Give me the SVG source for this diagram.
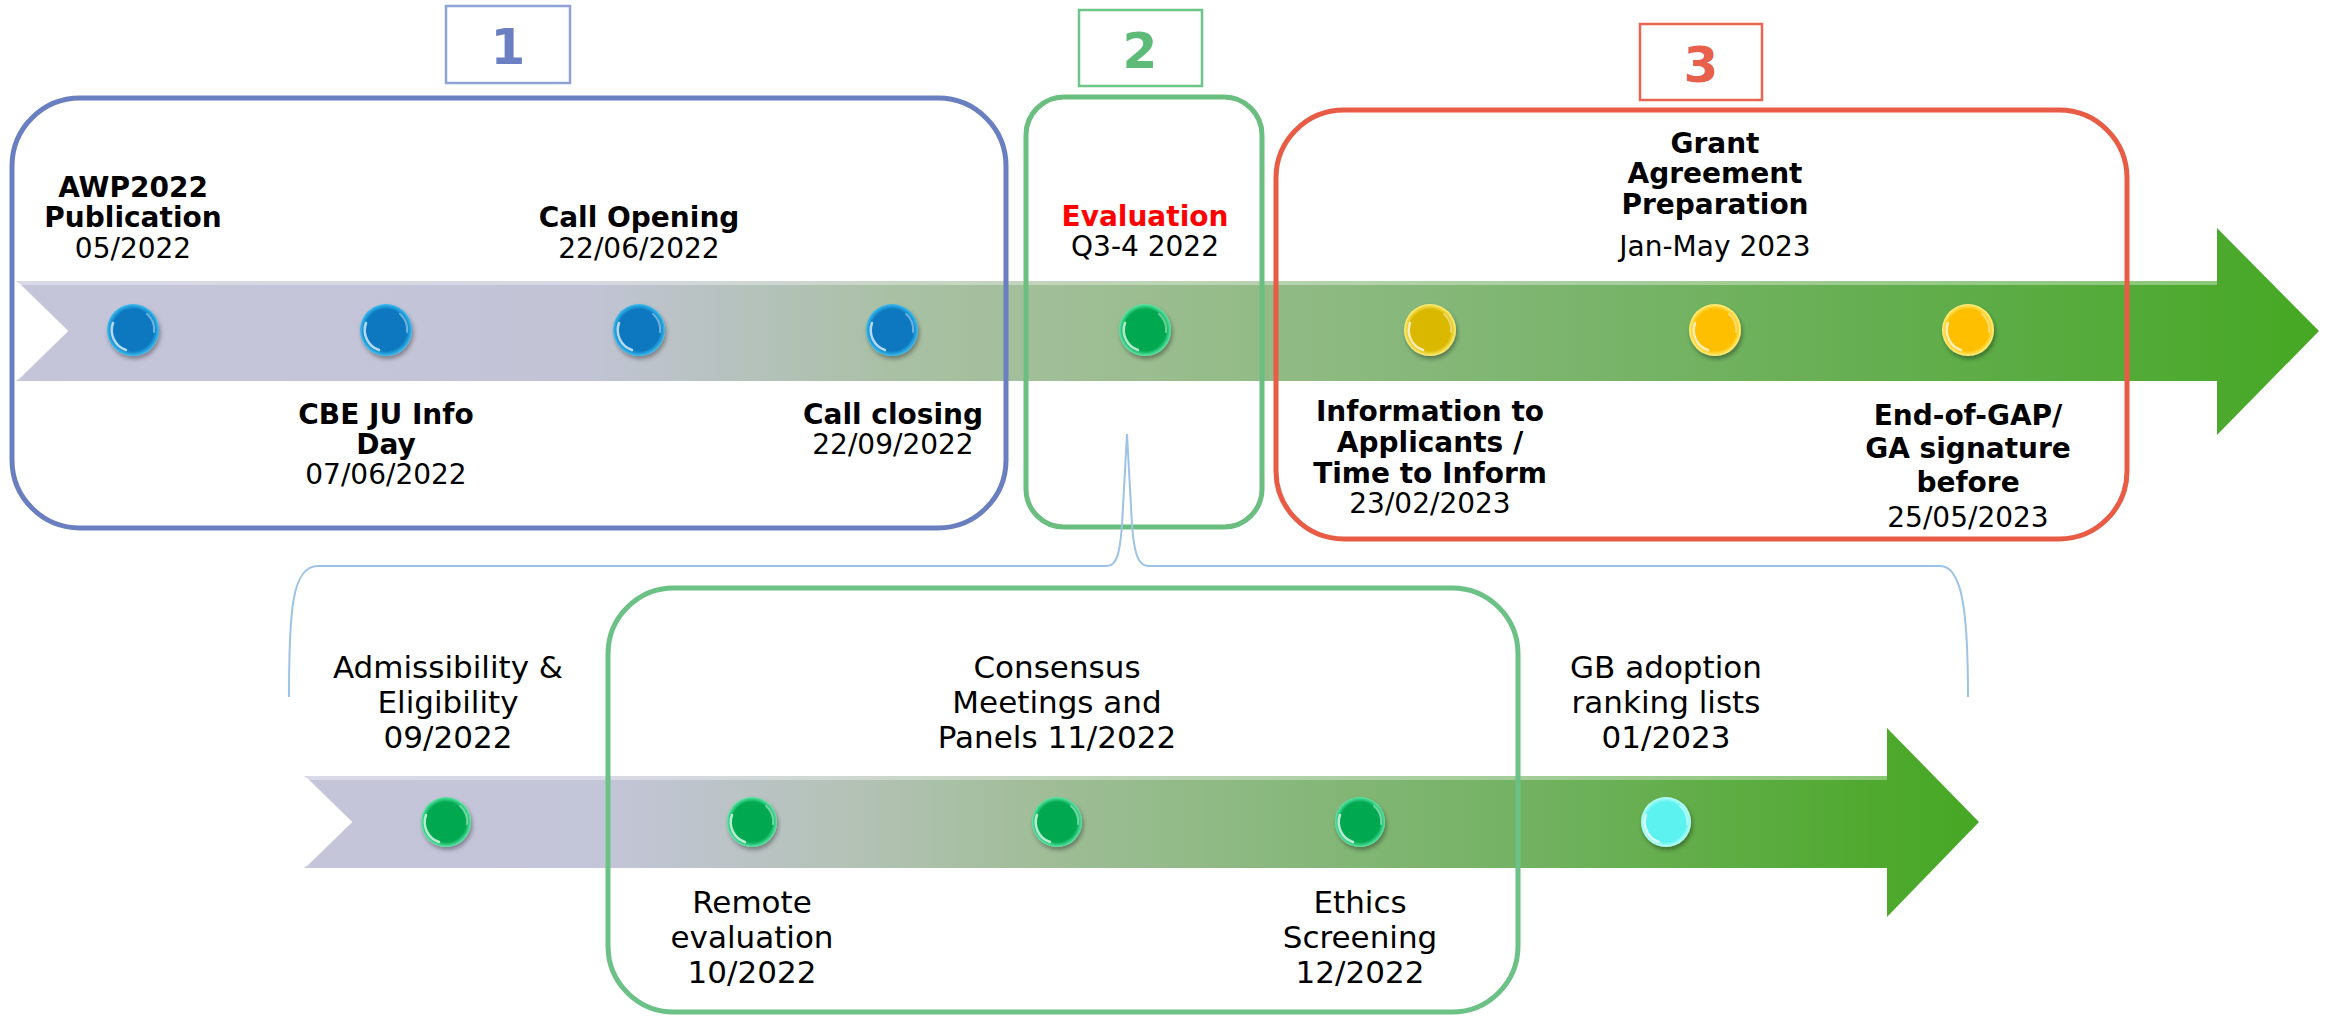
<svg xmlns="http://www.w3.org/2000/svg" width="2334" height="1016" viewBox="0 0 2334 1016">
<defs>
<style>
.b{font-family:"DejaVu Sans",sans-serif;font-weight:bold;font-size:28px;text-anchor:middle;fill:#000}
.r{font-family:"DejaVu Sans",sans-serif;font-size:28px;text-anchor:middle;fill:#000}
.l{font-family:"DejaVu Sans",sans-serif;font-size:31px;text-anchor:middle;fill:#000}
.num{font-family:"DejaVu Sans",sans-serif;font-weight:bold;font-size:50px;text-anchor:middle}
.hl{fill:none;stroke:#fff;stroke-width:2.5;stroke-opacity:.7;stroke-linecap:round}
.hl2{fill:none;stroke:#fff;stroke-width:2;stroke-opacity:.4;stroke-linecap:round}
.box{fill:none;stroke-width:5}
.nbox{fill:#fff;stroke-width:2.5}
.dot{filter:url(#sh)}
</style>
<linearGradient id="bandTop" gradientUnits="userSpaceOnUse" x1="14" y1="0" x2="2319" y2="0">
<stop offset="0" stop-color="#c5c5da"/>
<stop offset="0.245" stop-color="#c2c4d6"/>
<stop offset="0.384" stop-color="#a9c0a4"/>
<stop offset="0.49" stop-color="#9bbd90"/>
<stop offset="0.645" stop-color="#80b673"/>
<stop offset="0.86" stop-color="#5cac45"/>
<stop offset="1" stop-color="#45a823"/>
</linearGradient>
<linearGradient id="bandLow" gradientUnits="userSpaceOnUse" x1="304" y1="0" x2="1979" y2="0">
<stop offset="0" stop-color="#c5c5da"/>
<stop offset="0.18" stop-color="#c3c5d8"/>
<stop offset="0.33" stop-color="#b3c2b5"/>
<stop offset="0.44" stop-color="#a0bd98"/>
<stop offset="0.56" stop-color="#8cb981"/>
<stop offset="0.72" stop-color="#74b264"/>
<stop offset="0.94" stop-color="#4fa92e"/>
<stop offset="1" stop-color="#46a824"/>
</linearGradient>
<radialGradient id="gBlue" cx="0.5" cy="0.5" r="0.5"><stop offset="0" stop-color="#0878c0"/><stop offset="0.8" stop-color="#0878c0"/><stop offset="1" stop-color="#3dbdef"/></radialGradient>
<radialGradient id="gGreen" cx="0.5" cy="0.5" r="0.5"><stop offset="0" stop-color="#00a850"/><stop offset="0.8" stop-color="#00a850"/><stop offset="1" stop-color="#5ee8a8"/></radialGradient>
<radialGradient id="gYel1" cx="0.5" cy="0.5" r="0.5"><stop offset="0" stop-color="#dbb800"/><stop offset="0.8" stop-color="#dbb800"/><stop offset="1" stop-color="#fff07a"/></radialGradient>
<radialGradient id="gYel" cx="0.5" cy="0.5" r="0.5"><stop offset="0" stop-color="#fdbf00"/><stop offset="0.8" stop-color="#fdbf00"/><stop offset="1" stop-color="#fff080"/></radialGradient>
<radialGradient id="gCyan" cx="0.5" cy="0.5" r="0.5"><stop offset="0" stop-color="#5cf2f0"/><stop offset="0.8" stop-color="#5cf2f0"/><stop offset="1" stop-color="#c0fff8"/></radialGradient>
<filter id="sh" x="-50%" y="-50%" width="200%" height="200%"><feDropShadow dx="1.5" dy="3" stdDeviation="2" flood-color="#000" flood-opacity="0.35"/></filter>
<path id="hlp" class="hl" d="M -7 20 A 21 21 0 0 1 -20 -7"/>
<path id="hlq" class="hl2" d="M 14 -16 A 21 21 0 0 1 21 2"/>
</defs>

<rect width="2334" height="1016" fill="#fff"/>

<!-- timeline bands -->
<g id="bands">
<polygon points="16,281 2217,281 2217,228 2319,331 2217,435 2217,381 16,381 68,331" fill="url(#bandTop)"/>
<rect x="16" y="281" width="2201" height="4" fill="#fff" opacity="0.35"/>
<polyline points="18,283 67,331 18,379" fill="none" stroke="#fff" stroke-width="2" opacity="0.7"/>
<polygon points="304,776 1887,776 1887,728 1979,822 1887,917 1887,868 304,868 352,822" fill="url(#bandLow)"/>
<rect x="304" y="776" width="1583" height="4" fill="#fff" opacity="0.35"/>
<polyline points="306,778 351,822 306,866" fill="none" stroke="#fff" stroke-width="2" opacity="0.7"/>
</g>

<!-- phase boxes -->
<g id="phase1">
<rect class="box" x="12" y="98" width="994" height="430" rx="68" stroke="#6a7fc0"/>
<rect class="nbox" x="446" y="6" width="124" height="77" stroke="#8fa2d6"/>
<text class="num" x="508" y="64" fill="#6b80c3">1</text>
</g>
<g id="phase2">
<rect class="box" x="1026" y="97" width="236" height="430" rx="38" stroke="#6abf80"/>
<rect class="nbox" x="1079" y="10" width="123" height="76" stroke="#6cc487"/>
<text class="num" x="1140" y="68" fill="#5dbb77">2</text>
</g>
<g id="phase3">
<rect class="box" x="1276" y="110" width="851" height="429" rx="68" stroke="#e85c45"/>
<rect class="nbox" x="1640" y="24" width="122" height="76" stroke="#ea6552"/>
<text class="num" x="1701" y="82" fill="#e8604c">3</text>
</g>
<g id="evalDetailBox">
<rect class="box" x="608" y="588" width="910" height="424" rx="66" stroke="#6cc286" stroke-width="4"/>
</g>

<!-- connectors -->
<g id="connectors">
<path d="M 289 697 C 289 610 292 566 318 566 L 1107 566 C 1117 566 1120 552 1122 525 L 1127 434 L 1132 525 C 1134 552 1138 566 1148 566 L 1940 566 C 1962 566 1968 610 1968 697" fill="none" stroke="#9dc3e6" stroke-width="2"/>
</g>

<!-- top milestones -->
<g id="m-awp">
<g class="dot" transform="translate(133,330)"><circle r="26" fill="url(#gBlue)"/><use href="#hlp"/><use href="#hlq"/></g>
<text class="b" x="133" y="197">AWP2022</text>
<text class="b" x="133" y="227">Publication</text>
<text class="r" x="133" y="258">05/2022</text>
</g>
<g id="m-infoday">
<g class="dot" transform="translate(386,330)"><circle r="26" fill="url(#gBlue)"/><use href="#hlp"/><use href="#hlq"/></g>
<text class="b" x="386" y="424">CBE JU Info</text>
<text class="b" x="386" y="454">Day</text>
<text class="r" x="386" y="484">07/06/2022</text>
</g>
<g id="m-opening">
<g class="dot" transform="translate(639,330)"><circle r="26" fill="url(#gBlue)"/><use href="#hlp"/><use href="#hlq"/></g>
<text class="b" x="639" y="227">Call Opening</text>
<text class="r" x="639" y="258">22/06/2022</text>
</g>
<g id="m-closing">
<g class="dot" transform="translate(892,330)"><circle r="26" fill="url(#gBlue)"/><use href="#hlp"/><use href="#hlq"/></g>
<text class="b" x="893" y="424">Call closing</text>
<text class="r" x="893" y="454">22/09/2022</text>
</g>
<g id="m-evaluation">
<g class="dot" transform="translate(1145,330)"><circle r="26" fill="url(#gGreen)"/><use href="#hlp"/><use href="#hlq"/></g>
<text class="b" x="1145" y="226" style="fill:#ff0000">Evaluation</text>
<text class="r" x="1145" y="256">Q3-4 2022</text>
</g>
<g id="m-inform">
<g class="dot" transform="translate(1430,330)"><circle r="26" fill="url(#gYel1)"/><use href="#hlp"/><use href="#hlq"/></g>
<text class="b" x="1430" y="421">Information to</text>
<text class="b" x="1430" y="452">Applicants /</text>
<text class="b" x="1430" y="483">Time to Inform</text>
<text class="r" x="1430" y="513">23/02/2023</text>
</g>
<g id="m-gap">
<g class="dot" transform="translate(1715,330)"><circle r="26" fill="url(#gYel)"/><use href="#hlp"/><use href="#hlq"/></g>
<text class="b" x="1715" y="153">Grant</text>
<text class="b" x="1715" y="183">Agreement</text>
<text class="b" x="1715" y="214">Preparation</text>
<text class="r" x="1715" y="256">Jan-May 2023</text>
</g>
<g id="m-end">
<g class="dot" transform="translate(1968,330)"><circle r="26" fill="url(#gYel)"/><use href="#hlp"/><use href="#hlq"/></g>
<text class="b" x="1968" y="425">End-of-GAP/</text>
<text class="b" x="1968" y="458">GA signature</text>
<text class="b" x="1968" y="492">before</text>
<text class="r" x="1968" y="527">25/05/2023</text>
</g>

<!-- lower milestones -->
<g id="e-admiss">
<g class="dot" transform="translate(446,822)"><circle r="25" fill="url(#gGreen)"/><use href="#hlp"/><use href="#hlq"/></g>
<text class="l" x="448" y="678">Admissibility &amp;</text>
<text class="l" x="448" y="713">Eligibility</text>
<text class="l" x="448" y="748">09/2022</text>
</g>
<g id="e-remote">
<g class="dot" transform="translate(752,822)"><circle r="25" fill="url(#gGreen)"/><use href="#hlp"/><use href="#hlq"/></g>
<text class="l" x="752" y="913">Remote</text>
<text class="l" x="752" y="948">evaluation</text>
<text class="l" x="752" y="983">10/2022</text>
</g>
<g id="e-consensus">
<g class="dot" transform="translate(1057,822)"><circle r="25" fill="url(#gGreen)"/><use href="#hlp"/><use href="#hlq"/></g>
<text class="l" x="1057" y="678">Consensus</text>
<text class="l" x="1057" y="713">Meetings and</text>
<text class="l" x="1057" y="748">Panels 11/2022</text>
</g>
<g id="e-ethics">
<g class="dot" transform="translate(1360,822)"><circle r="25" fill="url(#gGreen)"/><use href="#hlp"/><use href="#hlq"/></g>
<text class="l" x="1360" y="913">Ethics</text>
<text class="l" x="1360" y="948">Screening</text>
<text class="l" x="1360" y="983">12/2022</text>
</g>
<g id="e-gb">
<g class="dot" transform="translate(1666,822)"><circle r="25" fill="url(#gCyan)"/><use href="#hlp"/><use href="#hlq"/></g>
<text class="l" x="1666" y="678">GB adoption</text>
<text class="l" x="1666" y="713">ranking lists</text>
<text class="l" x="1666" y="748">01/2023</text>
</g>
</svg>
